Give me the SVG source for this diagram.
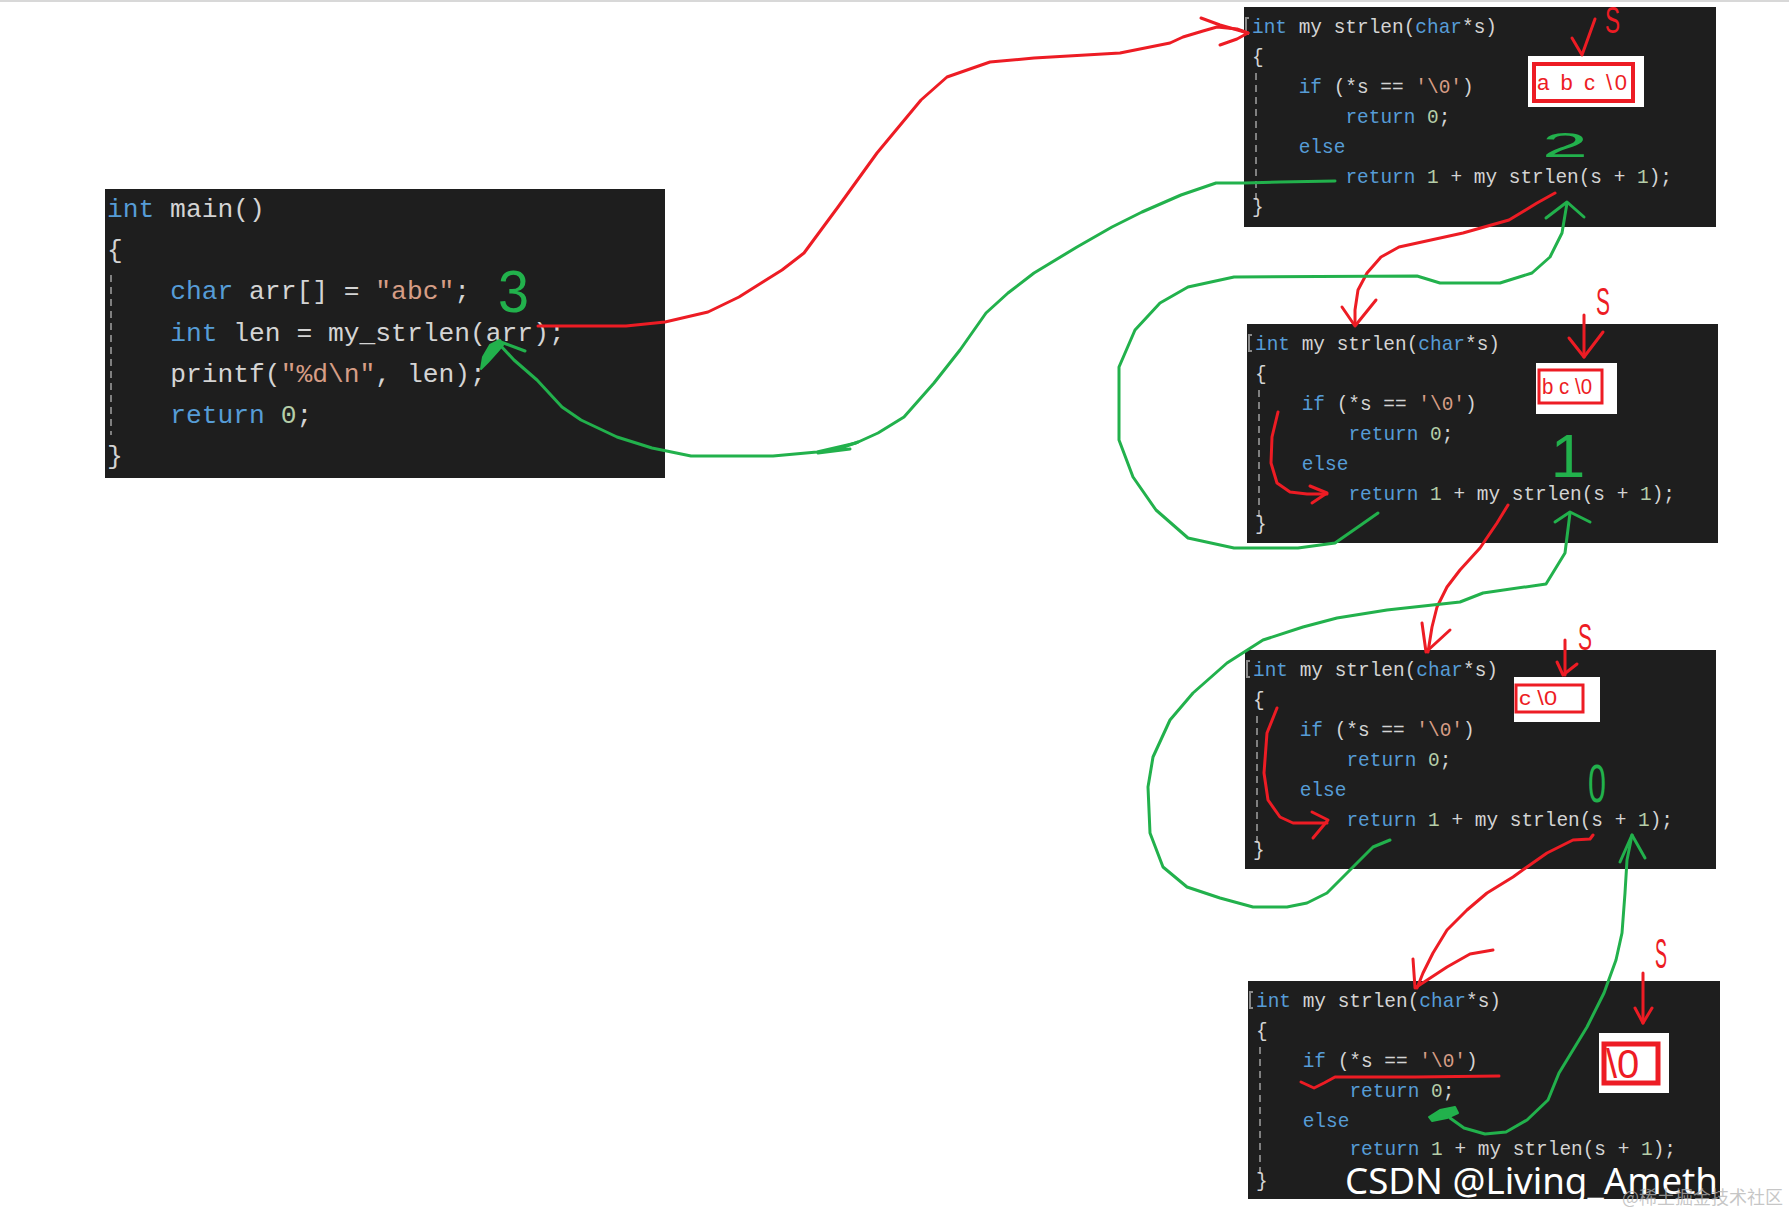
<svg xmlns="http://www.w3.org/2000/svg" width="1789" height="1213" viewBox="0 0 1789 1213" xml:space="preserve">
<style>
.box{fill:#1e1e1e}
.code{font-family:"Liberation Mono",monospace;white-space:pre}
.main{font-size:26.3px}
.fn{font-size:19.45px}
.kw{fill:#569cd6}
.id{fill:#d4d4d4}
.str{fill:#d69d85}
.num{fill:#b5cea8}
.guide{stroke:#808080;stroke-width:2;stroke-dasharray:7 5;fill:none}
.fold{stroke:#8a8a8a;stroke-width:2;fill:none}
.red{fill:none;stroke:#ed1c24;stroke-width:3;stroke-linecap:round;stroke-linejoin:round}
.grn{fill:none;stroke:#22b14c;stroke-width:3;stroke-linecap:round;stroke-linejoin:round}
.gfill{fill:#22b14c;stroke:#22b14c;stroke-width:2;stroke-linejoin:round}
.lblbg{fill:#ffffff}
.lbl{fill:none;stroke:#ed1c24}
.lbltxt{font-family:"Liberation Sans",sans-serif;fill:#ed1c24}
.hand{font-family:"Liberation Sans",sans-serif}
.hr{fill:#ed1c24}
.hg{fill:#22b14c}
</style>
<rect x="0" y="0" width="1789" height="1213" fill="#ffffff"/>
<rect x="0" y="0" width="1789" height="2" fill="#d8d8d8"/>

<g id="main" transform="translate(105,189)">
  <rect class="box" x="0" y="0" width="560" height="289"/>
  <path class="guide" d="M6,86 V246"/>
  <g class="code main">
    <text x="2" y="28"><tspan class="kw">int</tspan><tspan class="id"> main()</tspan></text>
    <text x="2" y="69" class="id">{</text>
    <text x="65.2" y="110"><tspan class="kw">char</tspan><tspan class="id"> arr[] = </tspan><tspan class="str">"abc"</tspan><tspan class="id">;</tspan></text>
    <text x="65.2" y="152"><tspan class="kw">int</tspan><tspan class="id"> len = my_strlen(arr);</tspan></text>
    <text x="65.2" y="193"><tspan class="id">printf(</tspan><tspan class="str">"%d\n"</tspan><tspan class="id">, len);</tspan></text>
    <text x="65.2" y="234"><tspan class="kw">return</tspan><tspan class="id"> </tspan><tspan class="num">0</tspan><tspan class="id">;</tspan></text>
    <text x="2" y="275" class="id">}</text>
  </g>
</g>

<g id="fn1" transform="translate(1244,7)">
  <rect class="box" x="0" y="0" width="472" height="220"/>
  <path class="fold" d="M5,11 H2 V27 H5"/>
  <path class="guide" d="M12,66 V194"/>
  <g class="code fn">
    <text x="8" y="26"><tspan class="kw">int</tspan><tspan class="id"> my strlen(</tspan><tspan class="kw">char</tspan><tspan class="id">*s)</tspan></text>
    <text x="8" y="56" class="id">{</text>
    <text x="54.7" y="86"><tspan class="kw">if</tspan><tspan class="id"> (*s == </tspan><tspan class="str">'\0'</tspan><tspan class="id">)</tspan></text>
    <text x="101.4" y="116"><tspan class="kw">return</tspan><tspan class="id"> </tspan><tspan class="num">0</tspan><tspan class="id">;</tspan></text>
    <text x="54.7" y="146"><tspan class="kw">else</tspan></text>
    <text x="101.4" y="176"><tspan class="kw">return</tspan><tspan class="id"> </tspan><tspan class="num">1</tspan><tspan class="id"> + my strlen(s + </tspan><tspan class="num">1</tspan><tspan class="id">);</tspan></text>
    <text x="8" y="206" class="id">}</text>
  </g>
  <rect class="lblbg" x="284" y="49" width="116" height="51"/>
  <rect class="lbl" x="290" y="57" width="99" height="37" stroke-width="4"/>
  <text class="lbltxt" x="293" y="83" font-size="22" textLength="90" lengthAdjust="spacing">a b c \0</text>
</g>

<g id="fn2" transform="translate(1247,324)">
  <rect class="box" x="0" y="0" width="471" height="219"/>
  <path class="fold" d="M5,11 H2 V27 H5"/>
  <path class="guide" d="M12,66 V194"/>
  <g class="code fn">
    <text x="8" y="26"><tspan class="kw">int</tspan><tspan class="id"> my strlen(</tspan><tspan class="kw">char</tspan><tspan class="id">*s)</tspan></text>
    <text x="8" y="56" class="id">{</text>
    <text x="54.7" y="86"><tspan class="kw">if</tspan><tspan class="id"> (*s == </tspan><tspan class="str">'\0'</tspan><tspan class="id">)</tspan></text>
    <text x="101.4" y="116"><tspan class="kw">return</tspan><tspan class="id"> </tspan><tspan class="num">0</tspan><tspan class="id">;</tspan></text>
    <text x="54.7" y="146"><tspan class="kw">else</tspan></text>
    <text x="101.4" y="176"><tspan class="kw">return</tspan><tspan class="id"> </tspan><tspan class="num">1</tspan><tspan class="id"> + my strlen(s + </tspan><tspan class="num">1</tspan><tspan class="id">);</tspan></text>
    <text x="8" y="206" class="id">}</text>
  </g>
  <rect class="lblbg" x="289" y="39" width="81" height="51"/>
  <rect class="lbl" x="292" y="46" width="63" height="33" stroke-width="3"/>
  <text class="lbltxt" x="295" y="70" font-size="22" textLength="50" lengthAdjust="spacingAndGlyphs">b c \0</text>
</g>

<g id="fn3" transform="translate(1245,650)">
  <rect class="box" x="0" y="0" width="471" height="219"/>
  <path class="fold" d="M5,11 H2 V27 H5"/>
  <path class="guide" d="M12,66 V194"/>
  <g class="code fn">
    <text x="8" y="26"><tspan class="kw">int</tspan><tspan class="id"> my strlen(</tspan><tspan class="kw">char</tspan><tspan class="id">*s)</tspan></text>
    <text x="8" y="56" class="id">{</text>
    <text x="54.7" y="86"><tspan class="kw">if</tspan><tspan class="id"> (*s == </tspan><tspan class="str">'\0'</tspan><tspan class="id">)</tspan></text>
    <text x="101.4" y="116"><tspan class="kw">return</tspan><tspan class="id"> </tspan><tspan class="num">0</tspan><tspan class="id">;</tspan></text>
    <text x="54.7" y="146"><tspan class="kw">else</tspan></text>
    <text x="101.4" y="176"><tspan class="kw">return</tspan><tspan class="id"> </tspan><tspan class="num">1</tspan><tspan class="id"> + my strlen(s + </tspan><tspan class="num">1</tspan><tspan class="id">);</tspan></text>
    <text x="8" y="206" class="id">}</text>
  </g>
  <rect class="lblbg" x="269" y="27" width="86" height="45"/>
  <rect class="lbl" x="271" y="35" width="67" height="27" stroke-width="3"/>
  <text class="lbltxt" x="274" y="55" font-size="20" textLength="38" lengthAdjust="spacingAndGlyphs">c \0</text>
</g>

<g id="fn4" transform="translate(1248,981)">
  <rect class="box" x="0" y="0" width="472" height="218"/>
  <path class="fold" d="M5,11 H2 V27 H5"/>
  <path class="guide" d="M12,66 V194"/>
  <g class="code fn">
    <text x="8" y="26"><tspan class="kw">int</tspan><tspan class="id"> my strlen(</tspan><tspan class="kw">char</tspan><tspan class="id">*s)</tspan></text>
    <text x="8" y="56" class="id">{</text>
    <text x="54.7" y="86"><tspan class="kw">if</tspan><tspan class="id"> (*s == </tspan><tspan class="str">'\0'</tspan><tspan class="id">)</tspan></text>
    <text x="101.4" y="116"><tspan class="kw">return</tspan><tspan class="id"> </tspan><tspan class="num">0</tspan><tspan class="id">;</tspan></text>
    <text x="54.7" y="146"><tspan class="kw">else</tspan></text>
    <text x="101.4" y="174"><tspan class="kw">return</tspan><tspan class="id"> </tspan><tspan class="num">1</tspan><tspan class="id"> + my strlen(s + </tspan><tspan class="num">1</tspan><tspan class="id">);</tspan></text>
    <text x="8" y="206" class="id">}</text>
  </g>
  <rect class="lblbg" x="351" y="52" width="70" height="60"/>
  <rect class="lbl" x="356" y="63" width="54" height="39" stroke-width="5"/>
  <text class="lbltxt" x="358" y="97" font-size="40">\0</text>
</g>

<g id="connectors">
  <!-- call main -> fn1 -->
  <polyline class="red" points="538,326 600,326 626,326 665,322 708,312 739,297 782,270 804,253 838,207 877,153 921,100 947,77 990,62 1034,58 1120,53 1170,43 1183,37 1203,31 1217,27 1237,29 1248,33"/>
  <polyline class="red" points="1201,18 1220,25 1248,33 1237,39 1220,45"/>
  <!-- return fn1 -> main -->
  <polyline class="grn" points="1335,181 1280,182 1244,183 1216,183 1181,195 1142,212 1112,227 1077,247 1034,273 1008,293 986,313 960,350 934,383 904,417 878,433 856,443 817,452 773,456 691,456 652,448 617,437 581,420 562,407 537,380 514,360 500,345"/>
  <polyline class="grn" points="858,442 838,449 818,453 850,449"/>
  <polyline class="grn" points="498,341 525,351"/>
  <polygon class="gfill" points="500,340 490,345 483,357 481,369 488,362 497,352 503,345"/>
  <!-- call fn1 -> fn2 -->
  <polyline class="red" points="1555,193 1537,203 1509,220 1463,233 1431,240 1399,247 1381,257 1367,273 1358,290 1355,310 1355,325"/>
  <polyline class="red" points="1342,307 1355,326 1376,300"/>
  <!-- return fn2 -> fn1 -->
  <polyline class="grn" points="1378,513 1358,527 1335,543 1298,548 1234,548 1188,538 1156,510 1133,477 1119,440 1119,367 1135,330 1160,303 1188,287 1234,277 1417,276 1440,283 1500,283 1532,273 1550,257 1562,233 1567,203"/>
  <polyline class="grn" points="1546,218 1567,202 1584,217"/>
  <!-- fn2 else -->
  <polyline class="red" points="1278,412 1272,437 1271,463 1277,483 1290,492 1307,494 1327,494"/>
  <polyline class="red" points="1310,486 1327,493 1312,503"/>
  <!-- call fn2 -> fn3 -->
  <polyline class="red" points="1508,505 1497,523 1480,548 1460,570 1447,587 1437,607 1432,627 1428,652"/>
  <polyline class="red" points="1422,623 1426,652 1450,630"/>
  <!-- return fn3 -> fn2 -->
  <polyline class="grn" points="1390,840 1373,847 1350,870 1327,893 1307,903 1287,907 1253,907 1220,898 1187,887 1163,867 1150,833 1148,787 1153,757 1170,720 1193,693 1227,663 1263,640 1303,627 1337,618 1387,610 1460,602 1483,593 1546,584 1565,553 1570,513"/>
  <polyline class="grn" points="1555,522 1570,512 1590,522"/>
  <!-- fn3 else -->
  <polyline class="red" points="1277,708 1267,733 1264,773 1268,800 1280,817 1293,823 1327,823"/>
  <polyline class="red" points="1312,812 1328,820 1313,838"/>
  <!-- call fn3 -> fn4 -->
  <polyline class="red" points="1593,835 1590,839 1573,840 1547,853 1527,867 1513,877 1487,893 1467,910 1447,930 1433,953 1423,973 1417,988"/>
  <polyline class="red" points="1413,959 1415,988 1447,967 1470,954 1493,950"/>
  <!-- return fn4 -> fn3 -->
  <polyline class="grn" points="1450,1118 1464,1128 1485,1134 1506,1132 1527,1120 1548,1100 1559,1073 1587,1027 1604,993 1616,960 1622,933 1625,893 1627,860 1632,835"/>
  <polyline class="grn" points="1620,862 1632,835 1645,858"/>
  <polygon class="gfill" points="1429,1117 1440,1110 1455,1107 1458,1113 1447,1118 1432,1121"/>
  <!-- fn4 condition true -->
  <polyline class="red" points="1301,1082 1314,1088 1324,1083 1335,1077 1415,1077 1499,1076"/>
</g>

<g id="annotations">
  <text class="hand hg" x="498" y="312" font-size="60" textLength="31" lengthAdjust="spacingAndGlyphs">3</text>
  <text class="hand hg" x="1542" y="157" font-size="35" textLength="46" lengthAdjust="spacingAndGlyphs">2</text>
  <text class="hand hg" x="1568" y="477" font-size="62" text-anchor="middle">1</text>
  <text class="hand hg" x="1588" y="802" font-size="54" textLength="18" lengthAdjust="spacingAndGlyphs">0</text>

  <text class="hand hr" x="1605" y="33" font-size="36" textLength="15" lengthAdjust="spacingAndGlyphs">S</text>
  <polyline class="red" points="1572,38 1582,55 1595,19"/>
  <text class="hand hr" x="1596" y="315" font-size="38" textLength="14" lengthAdjust="spacingAndGlyphs">S</text>
  <polyline class="red" points="1584,315 1584,357"/>
  <polyline class="red" points="1569,338 1584,357 1603,332"/>
  <text class="hand hr" x="1578" y="650" font-size="36" textLength="14" lengthAdjust="spacingAndGlyphs">S</text>
  <polyline class="red" points="1565,640 1565,675"/>
  <polyline class="red" points="1557,662 1563,675 1577,664"/>
  <text class="hand hr" x="1655" y="968" font-size="43" textLength="12" lengthAdjust="spacingAndGlyphs">S</text>
  <polyline class="red" points="1643,973 1643,1023"/>
  <polyline class="red" points="1635,1008 1643,1023 1652,1008"/>
</g>

<g id="watermark">
  <text x="1345" y="1194" font-family="'Noto Sans','Liberation Sans',sans-serif" font-size="36" fill="#ffffff" textLength="373" lengthAdjust="spacingAndGlyphs">CSDN @Living_Ameth</text>
  <text x="1622" y="1204" font-family="'Noto Sans CJK SC',sans-serif" font-size="18" fill="#b4b4b4" fill-opacity="0.75">@稀土掘金技术社区</text>
</g>
</svg>
